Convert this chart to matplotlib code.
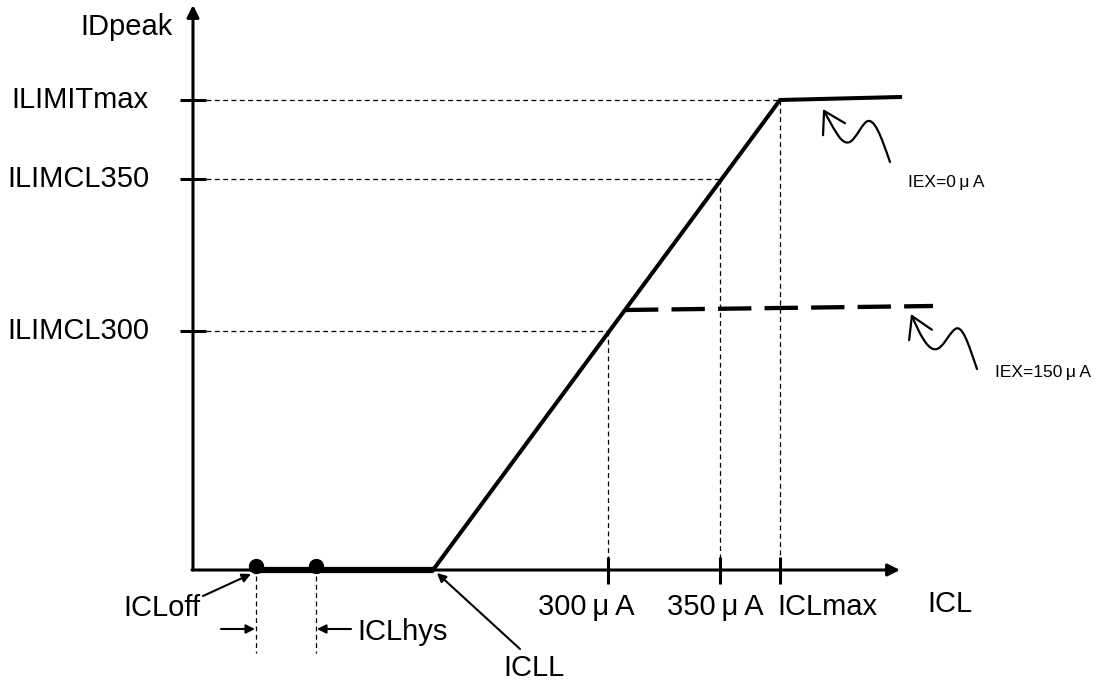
import matplotlib.pyplot as plt
from matplotlib.path import Path
from matplotlib.patches import FancyArrowPatch

plt.rcParams['font.family'] = ['Liberation Sans', 'DejaVu Sans']
plt.rcParams['lines.scale_dashes'] = False

# schematic laid out in pixel units of the 1103x683 picture
origin = (193, 570)
x_axis_end = 900
y_axis_top = 5

# y levels and their labels
level_names = ['ILIMITmax', 'ILIMCL350', 'ILIMCL300']
level_y = [100, 179, 331]
# where each level meets the curve
level_x = [780, 720, 608]

# x tick positions and labels
tick_x = [608, 720, 780]
tick_labels = ['300\u2009μ\u2009A', '350\u2009μ\u2009A', 'ICLmax']
tick_label_left = [538, 667, 777]

# IEX = 0uA curve
ramp_x = [433, 780, 900]
ramp_y = [570, 100, 97]
# IEX = 150uA clamp (dashed)
clamp_x = [625, 933]
clamp_y = [310, 306]
# off region and hysteresis points
off_x = [256, 433]
dot_x = [256, 316]
dot_y = [566, 566]

FS = 21
fig = plt.figure(figsize=(11.03, 6.83), dpi=100)
ax = fig.add_axes([0, 0, 1, 1])
ax.set_xlim(0, 1103)
ax.set_ylim(683, 0)
ax.axis('off')

# axes with arrow heads
ax.annotate('', xy=(origin[0], y_axis_top), xytext=origin,
            arrowprops=dict(arrowstyle='-|>', lw=2.2, color='black', mutation_scale=18, shrinkA=0, shrinkB=0))
ax.annotate('', xy=(x_axis_end, origin[1]), xytext=(origin[0] - 1, origin[1]),
            arrowprops=dict(arrowstyle='-|>', lw=2.2, color='black', mutation_scale=18, shrinkA=0, shrinkB=0))

# y ticks, labels and guide lines
for name, y, xe in zip(level_names, level_y, level_x):
    ax.plot([180, 206], [y, y], color='black', lw=2.2, solid_capstyle='butt')
    ax.plot([206, xe], [y, y], color='black', lw=0.9, dashes=(3.5, 2.5))
    ax.text(149, y, name, ha='right', va='center', fontsize=FS)
    ax.plot([xe, xe], [y, origin[1]], color='black', lw=0.9, dashes=(3.5, 2.5))

ax.text(173, 27, 'IDpeak', ha='right', va='center', fontsize=FS)

# x ticks and labels
for x, lab, xl in zip(tick_x, tick_labels, tick_label_left):
    ax.plot([x, x], [557, 584], color='black', lw=2.2, solid_capstyle='butt')
    ax.text(xl, 607, lab, ha='left', va='center', fontsize=FS)
ax.text(927, 604, 'ICL', ha='left', va='center', fontsize=FS)

# curves
ax.plot(off_x, [origin[1], origin[1]], color='black', lw=4.5, solid_capstyle='butt')
ax.plot(ramp_x, ramp_y, color='black', lw=2.9, solid_joinstyle='miter')
ax.plot(clamp_x, clamp_y, color='black', lw=3.1, dashes=(24, 9.5), solid_capstyle='butt')
ax.plot(dot_x, dot_y, 'o', color='black', ms=10)

# ICLoff / ICLhys markers
for x in dot_x:
    ax.plot([x, x], [576, 653], color='black', lw=0.9, dashes=(3.5, 2.5))
ax.annotate('', xy=(dot_x[0] - 1, 629), xytext=(221, 629),
            arrowprops=dict(arrowstyle='-|>', lw=1.5, color='black', mutation_scale=13, shrinkA=0, shrinkB=0))
ax.annotate('', xy=(dot_x[1] + 1, 629), xytext=(351, 629),
            arrowprops=dict(arrowstyle='-|>', lw=1.5, color='black', mutation_scale=13, shrinkA=0, shrinkB=0))
ax.text(357, 632, 'ICLhys', ha='left', va='center', fontsize=FS)

ax.text(162, 608, 'ICLoff', ha='center', va='center', fontsize=FS)
ax.annotate('', xy=(251, 574), xytext=(203, 596),
            arrowprops=dict(arrowstyle='-|>', lw=1.5, color='black', mutation_scale=13, shrinkA=0, shrinkB=0))
ax.text(534, 668, 'ICLL', ha='center', va='center', fontsize=FS)
ax.annotate('', xy=(437, 573), xytext=(520, 649),
            arrowprops=dict(arrowstyle='-|>', lw=1.5, color='black', mutation_scale=13, shrinkA=0, shrinkB=0))

# wavy pointer arrows for the IEX labels
def squiggle(pts):
    codes = [Path.MOVETO] + [Path.CURVE4] * (len(pts) - 1)
    p = FancyArrowPatch(path=Path(pts, codes), arrowstyle='->,head_length=0.5,head_width=0.3',
                        lw=1.6, color='black', mutation_scale=30)
    ax.add_patch(p)

squiggle([(890, 162), (881, 136), (874, 116), (866, 122),
          (857, 130), (852, 152), (840, 138),
          (834, 130), (829, 120), (823, 109)])
squiggle([(977, 369), (968, 343), (962, 322), (954, 330),
          (945, 338), (939, 360), (926, 343),
          (920, 335), (916, 325), (911, 314)])
ax.text(908, 183, 'IEX=0\u2009μ\u2009A', ha='left', va='center', fontsize=12.5)
ax.text(995, 372, 'IEX=150\u2009μ\u2009A', ha='left', va='center', fontsize=12.5)

fig.savefig('out.png', dpi=100)
